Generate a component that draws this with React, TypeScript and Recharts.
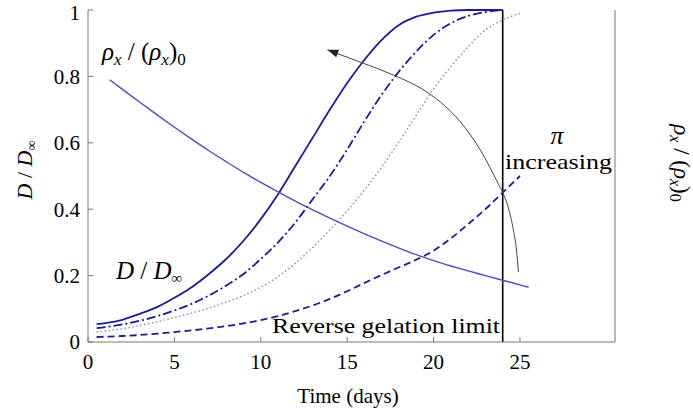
import React from "react"
import { LineChart, Line, XAxis, YAxis, ReferenceLine } from "recharts"

// D / D∞ curves (four π values), sampled in days
const daysA = [0.5, 1, 2, 3, 4, 5, 6, 7, 8, 9, 10, 11, 12, 13, 14, 15, 16, 17, 18, 19, 20, 21, 22, 23, 24]
const dSolid = [0.054, 0.057, 0.067, 0.085, 0.105, 0.133, 0.165, 0.205, 0.25, 0.305, 0.37, 0.445, 0.53, 0.615, 0.7, 0.78, 0.85, 0.91, 0.955, 0.98, 0.992, 0.998, 1, 1, 1]
const dDashDot = [0.042, 0.045, 0.053, 0.064, 0.078, 0.095, 0.115, 0.14, 0.17, 0.205, 0.25, 0.3, 0.36, 0.43, 0.5, 0.58, 0.665, 0.745, 0.815, 0.875, 0.925, 0.96, 0.982, 0.994, 1]

const daysB = [0.5, 1, 2, 3, 4, 5, 6, 7, 8, 9, 10, 11, 12, 13, 14, 15, 16, 17, 18, 19, 20, 21, 22, 23, 24, 25]
const dDotted = [0.03, 0.033, 0.04, 0.05, 0.061, 0.074, 0.087, 0.102, 0.12, 0.14, 0.165, 0.197, 0.237, 0.285, 0.338, 0.395, 0.458, 0.527, 0.603, 0.683, 0.762, 0.83, 0.889, 0.94, 0.97, 0.99]
const dDashed = [0.015, 0.016, 0.018, 0.021, 0.025, 0.03, 0.035, 0.041, 0.048, 0.056, 0.066, 0.078, 0.093, 0.11, 0.13, 0.153, 0.178, 0.202, 0.225, 0.248, 0.275, 0.312, 0.355, 0.4, 0.45, 0.5]

// ρx / (ρx)0 decay
const daysRho = [1.25, 2, 3, 4, 5, 6, 7, 8, 9, 10, 11, 12, 13, 14, 15, 16, 17, 18, 19, 20, 21, 22, 23, 24, 25, 25.5]
const rho = [0.79, 0.761, 0.722, 0.684, 0.647, 0.611, 0.576, 0.543, 0.511, 0.481, 0.452, 0.424, 0.398, 0.373, 0.349, 0.326, 0.304, 0.283, 0.263, 0.245, 0.229, 0.214, 0.2, 0.186, 0.172, 0.165]

// "π increasing" arrow curve
const daysArrow = [13.85, 15.76, 17.67, 19.24, 20.39, 21.55, 22.71, 23.75, 24.04, 24.33, 24.62, 24.8, 24.91]
const arrowY = [0.88, 0.843, 0.804, 0.765, 0.723, 0.663, 0.578, 0.476, 0.446, 0.404, 0.337, 0.277, 0.211]

const xTicks = [0, 5, 10, 15, 20, 25]
const yTicks = [0, 0.2, 0.4, 0.6, 0.8, 1]
const gelationDay = 24

const toPts = (xs: number[], ys: number[]) => xs.map((x, i) => ({ x, y: ys[i] }))

const FONT = "'Liberation Serif', Tinos, 'Times New Roman', Times, 'Nimbus Roman', FreeSerif, 'DejaVu Serif', serif"
const BLUE = "#1c1c9a"
const AX = "#777"
const serif = { fontFamily: FONT }

const fmt = (v: number) => (v === 0 || v === 1 ? String(v) : v.toFixed(1))

function ArrowDot(props: any) {
  const { cx, cy, index } = props
  if (index !== 0 || cx == null) return <g key={`ad${index}`} />
  return (
    <polygon
      key={`ad${index}`}
      points={`${cx},${cy} ${cx + 8.9},${cy + 7.5} ${cx + 11.7},${cy - 0.1}`}
      fill="#222"
    />
  )
}

export default function App() {
  return (
    <div style={{ position: "absolute", left: 0, top: 0, fontFamily: FONT, background: "#fff" }}>
      <LineChart width={693} height={410} margin={{ top: 10, right: 0, bottom: 0, left: 0 }} style={serif}>
        <XAxis
          xAxisId="b"
          type="number"
          dataKey="x"
          domain={[0, 30.5]}
          ticks={xTicks}
          height={68}
          tickSize={-5}
          tickMargin={17}
          stroke={AX}
          tick={{ fill: "#000", fontSize: 21, style: serif }}
          allowDataOverflow
        />
        <XAxis
          xAxisId="t"
          orientation="top"
          type="number"
          dataKey="x"
          domain={[0, 30.5]}
          ticks={xTicks}
          height={0}
          tickSize={-5}
          stroke={AX}
          tick={false}
          allowDataOverflow
        />
        <YAxis
          yAxisId="l"
          type="number"
          domain={[0, 1]}
          ticks={yTicks}
          width={88}
          tickSize={-5}
          tickMargin={13}
          stroke={AX}
          tickFormatter={fmt}
          tick={{ fill: "#000", fontSize: 21, style: serif }}
        />
        <YAxis
          yAxisId="r"
          orientation="right"
          type="number"
          domain={[0, 1]}
          ticks={yTicks}
          width={78}
          tickSize={-5}
          tickMargin={15}
          stroke={AX}
          tickFormatter={fmt}
          tick={{ fill: "#000", fontSize: 21, style: serif, textAnchor: "start" }}
        />
        <ReferenceLine xAxisId="b" yAxisId="l" x={gelationDay} stroke="#000" strokeWidth={1.6} />
        <Line xAxisId="b" yAxisId="l" data={toPts(daysA, dSolid)} dataKey="y" type="monotone"
          stroke={BLUE} strokeWidth={1.8} dot={false} isAnimationActive={false} />
        <Line xAxisId="b" yAxisId="l" data={toPts(daysA, dDashDot)} dataKey="y" type="monotone"
          stroke={BLUE} strokeWidth={1.8} strokeDasharray="9 3 2 3" dot={false} isAnimationActive={false} />
        <Line xAxisId="b" yAxisId="l" data={toPts(daysB, dDotted)} dataKey="y" type="monotone"
          stroke="#8a8aa6" strokeWidth={1.4} strokeDasharray="1.5 2.5" dot={false} isAnimationActive={false} />
        <Line xAxisId="b" yAxisId="l" data={toPts(daysB, dDashed)} dataKey="y" type="monotone"
          stroke={BLUE} strokeWidth={1.8} strokeDasharray="7 4" dot={false} isAnimationActive={false} />
        <Line xAxisId="b" yAxisId="l" data={toPts(daysRho, rho)} dataKey="y" type="monotone"
          stroke="#4c4cc4" strokeWidth={1.4} dot={false} isAnimationActive={false} />
        <Line xAxisId="b" yAxisId="l" data={toPts(daysArrow, arrowY)} dataKey="y" type="monotone"
          stroke="#444" strokeWidth={1} dot={ArrowDot} isAnimationActive={false} />

        {/* annotations */}
        <text x={102} y={60} fontSize={25} style={serif} fontStyle="italic" fill="#000">
          ρ<tspan fontSize={17} dy={5}>x</tspan>
          <tspan dy={-5} fontStyle="normal"> / (</tspan>
          <tspan>ρ</tspan>
          <tspan fontSize={17} dy={5}>x</tspan>
          <tspan dy={-5} fontStyle="normal">)</tspan>
          <tspan fontSize={17} dy={5} fontStyle="normal">0</tspan>
        </text>
        <text x={116} y={279} fontSize={25} style={serif} fontStyle="italic" fill="#000">
          D <tspan fontStyle="normal">/</tspan> D<tspan fontSize={15} dy={4}>∞</tspan>
        </text>
        <text x={500} y={333} fontSize={22} style={serif} fill="#000" textAnchor="end"
          textLength={228} lengthAdjust="spacingAndGlyphs">
          Reverse gelation limit
        </text>
        <text x={557} y={144} fontSize={26} style={serif} fontStyle="italic" fill="#000" textAnchor="middle">
          π
        </text>
        <text x={505} y={169} fontSize={22} style={serif} fill="#000" textLength={107} lengthAdjust="spacingAndGlyphs">
          increasing
        </text>

        {/* axis titles */}
        <text x={348} y={403} fontSize={21} style={serif} fill="#000" textAnchor="middle">
          Time (days)
        </text>
        <text x={32} y={170} transform="rotate(-90 32 170)" fontSize={22} style={serif}
          fontStyle="italic" fill="#000" textAnchor="middle">
          D <tspan fontStyle="normal">/</tspan> D<tspan fontSize={14} dy={4}>∞</tspan>
        </text>
        <text x={674} y={163} transform="rotate(90 674 163)" fontSize={23} style={serif}
          fontStyle="italic" fill="#000" textAnchor="middle">
          ρ<tspan fontSize={16} dy={4}>x</tspan>
          <tspan dy={-4} fontStyle="normal"> / (</tspan>
          <tspan>ρ</tspan>
          <tspan fontSize={16} dy={4}>x</tspan>
          <tspan dy={-4} fontStyle="normal">)</tspan>
          <tspan fontSize={16} dy={4} fontStyle="normal">0</tspan>
        </text>
      </LineChart>
    </div>
  )
}
